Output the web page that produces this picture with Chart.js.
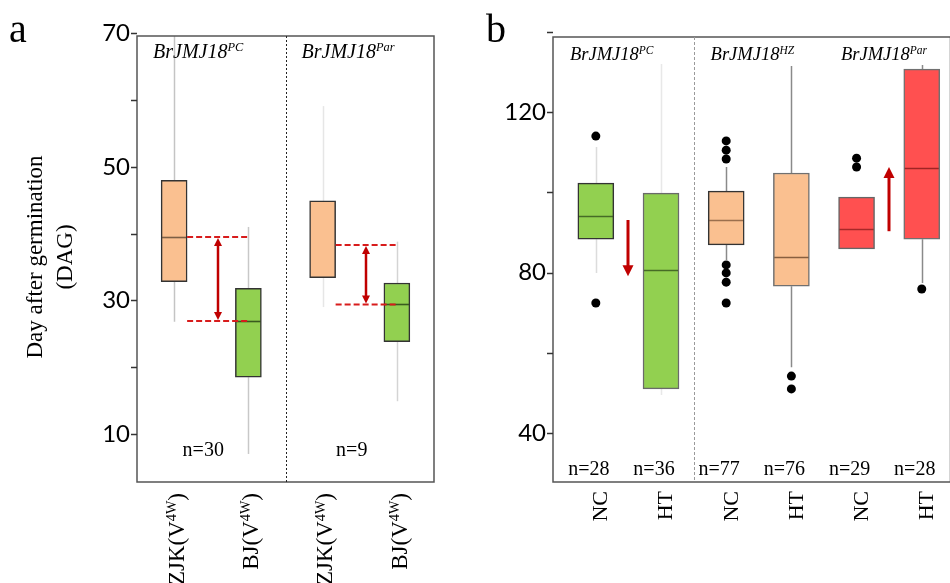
<!DOCTYPE html>
<html>
<head>
<meta charset="utf-8">
<script src="https://cdn.jsdelivr.net/npm/chart.js@4"></script>
<style>
  body { margin: 0; width: 950px; height: 583px; overflow: hidden; background: #fff; position: relative; }
  canvas { position: absolute; top: 0; }
  #chartA { left: 0; }
  #chartB { left: 475px; }
</style>
</head>
<body>
<canvas id="chartA" width="475" height="583"></canvas>
<canvas id="chartB" width="480" height="583"></canvas>
<script>
// ---- panel a : days to flowering, ZJK vs BJ ----
const catsA = ['ZJK', 'BJ', 'ZJK', 'BJ'];
const groupsA = ['PC', 'Par'];
const countsA = ['n=30', 'n=9'];
const q1A = [32.8, 18.5, 33.4, 23.8];
const q3A = [48.0, 31.8, 44.9, 32.6];
const medA = [39.5, 26.9, 38.3, 29.4];
const loA = [26.8, 7.0, 29.0, 14.9];
const hiA = [70, 41.0, 59.1, 38.8];
const ticksA = [10, 20, 30, 40, 50, 60, 70];
const tickLabelsA = [10, 30, 50, 70];

// ---- panel b : NC vs HT ----
const catsB = ['NC', 'HT', 'NC', 'HT', 'NC', 'HT'];
const groupsB = ['PC', 'HZ', 'Par'];
const countsB = ['n=28', 'n=36', 'n=77', 'n=76', 'n=29', 'n=28'];
const q1B = [88.3, 51.0, 86.9, 76.6, 85.9, 88.3];
const q3B = [102.3, 99.8, 100.3, 104.8, 98.8, 130.7];
const medB = [94.1, 80.6, 93.1, 83.8, 90.8, 106.0];
const loB = [79.9, 49.5, 83.1, 56.4, 85.9, 77.4];
const hiB = [111.3, 132.0, 106.3, 131.5, 98.8, 131.7];
const outliersB = [
  [114.0, 72.4],
  [],
  [112.8, 110.5, 108.3, 81.9, 79.9, 77.6, 72.4],
  [54.2, 51.0],
  [108.5, 106.3],
  [75.9]
];
const arrowFromB = [93.1, 90.3];
const arrowToB = [79.1, 106.3];
const ticksB = [40, 60, 80, 100, 120, 140];
const tickLabelsB = [40, 80, 120];

const GREEN = '#92d050', PEACH = '#fac090', RED = '#ff5050';
const SERIF = '"Liberation Serif", "Times New Roman", serif';
const ARROW = '#c00000';

const fillA = [PEACH, GREEN, PEACH, GREEN];
const whiskerA = ['#c4c4c4', '#c8c8c8', '#e6e6e6', '#d4d4d4'];
const medianColorA = ['rgba(40,30,20,0.6)', 'rgba(20,40,10,0.7)', 'rgba(0,0,0,0)', 'rgba(20,40,10,0.7)'];

const fillB = [GREEN, GREEN, PEACH, PEACH, RED, RED];
const borderB = ['#333', '#6a6a6a', '#333', '#707070', '#666', '#707070'];
const whiskerB = ['#dcdcdc', '#e8e8e8', '#8a8a8a', '#8a8a8a', '#8a8a8a', '#8a8a8a'];
const medianColorB = ['rgba(20,40,10,0.6)', 'rgba(20,40,10,0.6)', 'rgba(60,30,10,0.5)', 'rgba(60,30,10,0.6)', 'rgba(80,0,0,0.5)', 'rgba(80,0,0,0.55)'];

// ---------- drawing helpers ----------
const line = (ctx, x0, y0, x1, y1) => {
  ctx.beginPath(); ctx.moveTo(x0, y0); ctx.lineTo(x1, y1); ctx.stroke();
};

// text made of [string, isSuperscript] parts, left aligned on baseline
function richWidth(ctx, parts, size, style) {
  let w = 0;
  parts.forEach(([t, sup]) => {
    ctx.font = `${style} ${sup ? size * 0.62 : size}px ${SERIF}`;
    w += ctx.measureText(t).width;
  });
  return w;
}
function drawRich(ctx, parts, x, y, size, style) {
  ctx.textAlign = 'left';
  ctx.textBaseline = 'alphabetic';
  parts.forEach(([t, sup]) => {
    ctx.font = `${style} ${sup ? size * 0.62 : size}px ${SERIF}`;
    ctx.fillText(t, x, sup ? y - size * 0.34 : y);
    x += ctx.measureText(t).width;
  });
}
// vertical label reading bottom-to-top, its end placed at (x, top)
function drawVertical(ctx, parts, x, top, size) {
  ctx.save();
  ctx.translate(x, top);
  ctx.rotate(-Math.PI / 2);
  const w = richWidth(ctx, parts, size, '');
  drawRich(ctx, parts, -w, size * 0.34, size, '');
  ctx.restore();
}

function arrowHead(ctx, x, tip, dir, len, half) {
  ctx.beginPath();
  ctx.moveTo(x, tip);
  ctx.lineTo(x - half, tip - dir * len);
  ctx.lineTo(x + half, tip - dir * len);
  ctx.closePath();
  ctx.fill();
}
function arrow(ctx, x, y0, y1, both, len, half, width) {
  const dir = Math.sign(y1 - y0);
  ctx.strokeStyle = ARROW; ctx.fillStyle = ARROW; ctx.lineWidth = width;
  line(ctx, x, both ? y0 + dir * (len - 1) : y0, x, y1 - dir * (len - 1));
  arrowHead(ctx, x, y1, dir, len, half);
  if (both) arrowHead(ctx, x, y0, -dir, len, half);
}

function drawWhiskers(chart, lo, q1, q3, hi, colors) {
  const { ctx, chartArea: a, scales: { x, y } } = chart;
  ctx.save();
  ctx.beginPath(); ctx.rect(a.left, a.top, a.right - a.left, a.bottom - a.top); ctx.clip();
  ctx.lineWidth = 1.5;
  lo.forEach((v, i) => {
    const px = Math.round(x.getPixelForValue(i)) + 0.5;
    ctx.strokeStyle = colors[i];
    line(ctx, px, y.getPixelForValue(v), px, y.getPixelForValue(q1[i]));
    line(ctx, px, y.getPixelForValue(q3[i]), px, y.getPixelForValue(hi[i]));
  });
  ctx.restore();
}
function drawMedians(chart, med, colors) {
  const { ctx, scales: { y } } = chart;
  const bars = chart.getDatasetMeta(0).data;
  ctx.save();
  ctx.lineWidth = 1.6;
  med.forEach((v, i) => {
    const b = bars[i], py = Math.round(y.getPixelForValue(v)) + 0.5;
    ctx.strokeStyle = colors[i];
    line(ctx, b.x - b.width / 2 + 1, py, b.x + b.width / 2 - 1, py);
  });
  ctx.restore();
}
function drawFrame(chart, ticks, color) {
  const { ctx, chartArea: a, scales: { y } } = chart;
  ctx.save();
  ctx.strokeStyle = color; ctx.lineWidth = 1.5;
  ctx.strokeRect(a.left, a.top, a.right - a.left, a.bottom - a.top);
  ctx.strokeStyle = '#333';
  ticks.forEach(v => {
    const py = Math.round(y.getPixelForValue(v)) + 0.5;
    line(ctx, a.left - 6, py, a.left, py);
  });
  ctx.restore();
}

function yScale(min, max, ticks, labels, width) {
  return {
    min, max,
    afterBuildTicks: s => { s.ticks = ticks.map(v => ({ value: v })); },
    afterFit: s => { s.width = width; },
    grid: { display: false, drawTicks: false },
    border: { display: false },
    ticks: {
      autoSkip: false,
      padding: 7,
      color: '#000',
      font: { family: 'Lato', size: 24 },
      callback: v => labels.includes(v) ? v : ''
    }
  };
}

const common = {
  responsive: false,
  animation: false,
  events: [],
  plugins: { legend: { display: false }, tooltip: { enabled: false } }
};

// ---------- panel a ----------
const panelA = {
  id: 'panelA',
  beforeDatasetsDraw(chart) {
    drawWhiskers(chart, loA, q1A, q3A, hiA, whiskerA);
  },
  afterDatasetsDraw(chart) {
    const { ctx, scales: { x, y } } = chart;
    drawMedians(chart, medA, medianColorA);
    const bars = chart.getDatasetMeta(0).data;
    // dashed median guides and double arrows, one pair per group
    for (let g = 0; g < 2; g++) {
      const l = bars[2 * g], r = bars[2 * g + 1];
      const yTop = y.getPixelForValue(medA[2 * g]), yBot = y.getPixelForValue(medA[2 * g + 1]);
      const x0 = l.x + l.width / 2, x1 = r.x;
      ctx.save();
      ctx.strokeStyle = '#d81c1c'; ctx.lineWidth = 2; ctx.setLineDash([6, 3]);
      line(ctx, x0, yTop, x1, yTop);
      line(ctx, x0, yBot, x1, yBot);
      ctx.restore();
      ctx.save();
      arrow(ctx, Math.round((x0 + x1) / 2), yTop + 1, yBot - 1, true, 8, 4, 2.5);
      ctx.restore();
    }
  },
  afterDraw(chart) {
    const { ctx, chartArea: a, scales: { x } } = chart;
    drawFrame(chart, ticksA, '#555');
    const split = (x.getPixelForValue(1) + x.getPixelForValue(2)) / 2;
    ctx.save();
    ctx.strokeStyle = '#222'; ctx.lineWidth = 1; ctx.setLineDash([2, 2]);
    line(ctx, Math.round(split) + 0.5, a.top, Math.round(split) + 0.5, a.bottom);
    ctx.restore();

    ctx.fillStyle = '#000';
    const starts = [a.left, split], ends = [split, a.right];
    groupsA.forEach((g, i) => {
      drawRich(ctx, [['BrJMJ18', false], [g, true]], starts[i] + 16, 58, 20, 'italic');
      ctx.font = `20px ${SERIF}`;
      ctx.textAlign = 'center';
      ctx.fillText(countsA[i], (starts[i] + ends[i]) / 2 - 8, 456);
    });
    catsA.forEach((c, i) => {
      drawVertical(ctx, [[c + '(V', false], ['4W', true], [')', false]], x.getPixelForValue(i) + 2, 493, 23);
    });

    // axis title and panel letter
    ctx.save();
    ctx.translate(36, 257);
    ctx.rotate(-Math.PI / 2);
    ctx.font = `23px ${SERIF}`;
    ctx.textAlign = 'center'; ctx.textBaseline = 'middle';
    ctx.fillText('Day after germination', 0, 0);
    ctx.fillText('(DAG)', 0, 30);
    ctx.restore();
    ctx.font = `40px ${SERIF}`;
    ctx.textAlign = 'left'; ctx.textBaseline = 'alphabetic';
    ctx.fillText('a', 9, 42);
  }
};

new Chart(document.getElementById('chartA'), {
  type: 'bar',
  data: {
    labels: catsA,
    datasets: [{
      data: q1A.map((q, i) => [q, q3A[i]]),
      backgroundColor: fillA,
      borderColor: '#333',
      borderWidth: 1.5,
      borderSkipped: false,
      barThickness: 26,
      grouped: false
    }]
  },
  options: {
    ...common,
    layout: { padding: { top: 36, right: 41, bottom: 101, left: 0 } },
    scales: {
      x: { display: false },
      y: yScale(2.8, 69.6, ticksA, tickLabelsA, 137)
    }
  },
  plugins: [panelA]
});

// ---------- panel b ----------
const panelB = {
  id: 'panelB',
  beforeDatasetsDraw(chart) {
    drawWhiskers(chart, loB, q1B, q3B, hiB, whiskerB);
  },
  afterDatasetsDraw(chart) {
    const { ctx, scales: { x, y } } = chart;
    drawMedians(chart, medB, medianColorB);
    ctx.save();
    [0.5, 4.5].forEach((pos, k) => {
      arrow(ctx, Math.round(x.getPixelForValue(pos)), y.getPixelForValue(arrowFromB[k]),
        y.getPixelForValue(arrowToB[k]), false, 11, 5.5, 3);
    });
    ctx.restore();
  },
  afterDraw(chart) {
    const { ctx, chartArea: a, scales: { x } } = chart;
    drawFrame(chart, ticksB, '#555');
    const split = Math.round(x.getPixelForValue(1.5)) + 0.5;
    ctx.save();
    ctx.strokeStyle = '#9a9a9a'; ctx.lineWidth = 1; ctx.setLineDash([3, 2]);
    line(ctx, split, a.top, split, a.bottom);
    ctx.restore();

    ctx.fillStyle = '#000';
    groupsB.forEach((g, k) => {
      const left = k === 0 ? a.left : x.getPixelForValue(2 * k - 0.5);
      drawRich(ctx, [['BrJMJ18', false], [g, true]], left + 17, 60, 18.5, 'italic');
    });
    ctx.font = `20px ${SERIF}`;
    ctx.textAlign = 'center'; ctx.textBaseline = 'alphabetic';
    countsB.forEach((n, i) => ctx.fillText(n, x.getPixelForValue(i) - 7, 475));
    catsB.forEach((c, i) => drawVertical(ctx, [[c, false]], x.getPixelForValue(i) + 4, 491, 22));

    ctx.font = `40px ${SERIF}`;
    ctx.textAlign = 'left';
    ctx.fillText('b', 11, 42);
  }
};

new Chart(document.getElementById('chartB'), {
  type: 'bar',
  data: {
    datasets: [{
      data: q1B.map((q, i) => ({ x: i, y: [q, q3B[i]] })),
      backgroundColor: fillB,
      borderColor: borderB,
      borderWidth: 1.5,
      borderSkipped: false,
      barThickness: 36,
      grouped: false
    }, {
      type: 'scatter',
      data: outliersB.flatMap((vals, i) => vals.map(v => ({ x: i, y: v }))),
      pointRadius: 4.5,
      backgroundColor: '#000',
      borderWidth: 0
    }]
  },
  options: {
    ...common,
    layout: { padding: { top: 37, right: 2, bottom: 101, left: 0 } },
    scales: {
      x: { type: 'linear', offset: false, min: -0.657, max: 5.441, display: false },
      y: yScale(27.8, 138.7, ticksB, tickLabelsB, 78)
    }
  },
  plugins: [panelB]
});
</script>
</body>
</html>
